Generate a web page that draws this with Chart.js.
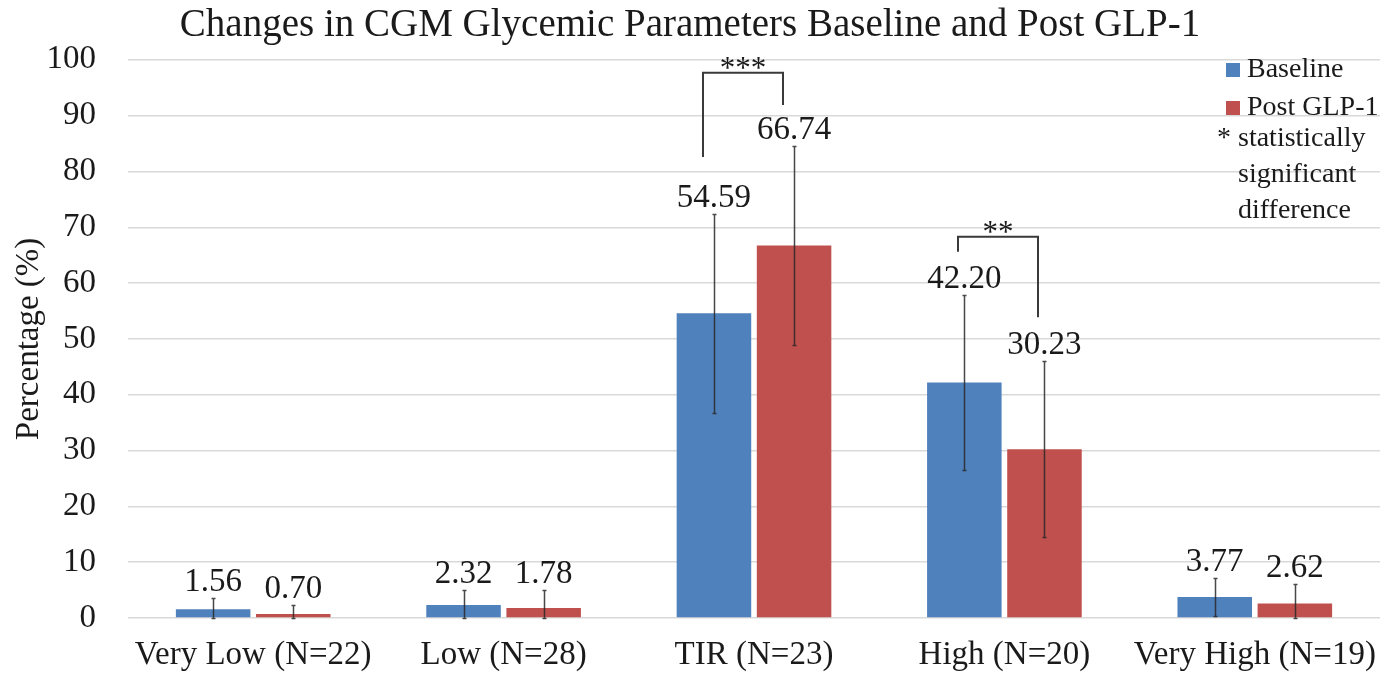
<!DOCTYPE html>
<html>
<head>
<meta charset="utf-8">
<title>Changes in CGM Glycemic Parameters</title>
<script src="https://cdn.jsdelivr.net/npm/chart.js@4.4.1/dist/chart.umd.min.js"></script>
<style>
  html, body { margin: 0; padding: 0; background: #ffffff; }
  #wrap { width: 1383px; height: 677px; }
</style>
</head>
<body>
<div id="wrap"><canvas id="chart" width="1383" height="677"></canvas></div>
<script>
// Glycemic range categories with patient counts
const categories = ['Very Low (N=22)', 'Low (N=28)', 'TIR (N=23)', 'High (N=20)', 'Very High (N=19)'];

// Mean percentage of time in each range
const baselineValues = [1.56, 2.32, 54.59, 42.20, 3.77];
const postGlp1Values = [0.70, 1.78, 66.74, 30.23, 2.62];

// Standard deviations shown as error bars
const baselineSD = [2.0, 2.7, 17.8, 15.6, 3.4];
const postGlp1SD = [1.6, 3.2, 17.8, 15.8, 3.5];

// Y axis range and step
const yMin = 0;
const yMax = 100;
const yStep = 10;

// Significance markers between the two series of a category
const significance = [
  { index: 2, stars: '***', top: 97.7, leftEnd: 82.6, rightEnd: 91.9, shift: -11 },
  { index: 3, stars: '**',  top: 68.3, leftEnd: 65.6, rightEnd: 53.9, shift: -6 }
];

const SERIF = "'Liberation Serif', 'Times New Roman', Times, serif";
const TEXT = '#1a1a1a';
const BLUE = '#4F81BD';
const RED = '#C0504D';

// Error bars (mean ± SD, clipped at the axis floor)
const errorBars = {
  id: 'errorBars',
  afterDatasetsDraw(chart) {
    const { ctx } = chart;
    const y = chart.scales.y;
    ctx.save();
    ctx.strokeStyle = 'rgba(40,40,40,0.85)';
    ctx.lineWidth = 1.5;
    chart.data.datasets.forEach((ds, di) => {
      const meta = chart.getDatasetMeta(di);
      meta.data.forEach((bar, i) => {
        const v = ds.data[i];
        const sd = ds.errors[i];
        const top = Math.round(y.getPixelForValue(v + sd)) + 0.5;
        const bot = Math.round(y.getPixelForValue(Math.max(yMin, v - sd))) + 0.5;
        const x = Math.round(bar.x) + 0.5;
        ctx.beginPath();
        ctx.moveTo(x, top);
        ctx.lineTo(x, bot);
        ctx.moveTo(x - 2, top);
        ctx.lineTo(x + 2, top);
        ctx.moveTo(x - 2, bot);
        ctx.lineTo(x + 2, bot);
        ctx.stroke();
      });
    });
    ctx.restore();
  }
};

// Value labels sitting above each error bar
const valueLabels = {
  id: 'valueLabels',
  afterDatasetsDraw(chart) {
    const { ctx } = chart;
    const y = chart.scales.y;
    ctx.save();
    ctx.font = '33px ' + SERIF;
    ctx.fillStyle = TEXT;
    ctx.textAlign = 'center';
    ctx.textBaseline = 'alphabetic';
    chart.data.datasets.forEach((ds, di) => {
      const meta = chart.getDatasetMeta(di);
      meta.data.forEach((bar, i) => {
        const v = ds.data[i];
        const top = y.getPixelForValue(v + ds.errors[i]);
        ctx.fillText(v.toFixed(2), bar.x, top - 7);
      });
    });
    ctx.restore();
  }
};

// Brackets with asterisks marking significant differences
const brackets = {
  id: 'brackets',
  afterDatasetsDraw(chart) {
    const { ctx } = chart;
    const y = chart.scales.y;
    const m0 = chart.getDatasetMeta(0);
    const m1 = chart.getDatasetMeta(1);
    ctx.save();
    ctx.strokeStyle = '#3a3a3a';
    ctx.lineWidth = 2;
    ctx.fillStyle = TEXT;
    ctx.font = '31px ' + SERIF;
    ctx.textAlign = 'center';
    ctx.textBaseline = 'middle';
    significance.forEach(s => {
      const xl = Math.round(m0.data[s.index].x) + s.shift;
      const xr = Math.round(m1.data[s.index].x) + s.shift;
      const yt = y.getPixelForValue(s.top);
      ctx.beginPath();
      ctx.moveTo(xl, y.getPixelForValue(s.leftEnd));
      ctx.lineTo(xl, yt);
      ctx.lineTo(xr, yt);
      ctx.lineTo(xr, y.getPixelForValue(s.rightEnd));
      ctx.stroke();
      ctx.fillText(s.stars, (xl + xr) / 2, yt - 3);
    });
    ctx.restore();
  }
};

// Legend and footnote in the upper right corner
const cornerLegend = {
  id: 'cornerLegend',
  afterDraw(chart) {
    const { ctx } = chart;
    const right = chart.chartArea.right;
    const x0 = right - 154;
    ctx.save();
    ctx.font = '28px ' + SERIF;
    ctx.fillStyle = TEXT;
    ctx.textAlign = 'left';
    ctx.textBaseline = 'middle';
    chart.data.datasets.forEach((ds, i) => {
      const cy = 70 + i * 38;
      ctx.fillStyle = ds.backgroundColor;
      ctx.fillRect(x0, cy - 7, 14, 14);
      ctx.fillStyle = TEXT;
      ctx.fillText(ds.label, x0 + 21, cy);
    });
    ctx.fillText('* statistically', x0 - 9, 139);
    ctx.fillText('significant', x0 + 12, 175);
    ctx.fillText('difference', x0 + 12, 211);
    ctx.restore();
  }
};

new Chart(document.getElementById('chart'), {
  type: 'bar',
  data: {
    labels: categories,
    datasets: [
      { label: 'Baseline', data: baselineValues, errors: baselineSD, backgroundColor: BLUE,
        categoryPercentage: 0.64, barPercentage: 0.93 },
      { label: 'Post GLP-1', data: postGlp1Values, errors: postGlp1SD, backgroundColor: RED,
        categoryPercentage: 0.64, barPercentage: 0.93 }
    ]
  },
  options: {
    responsive: false,
    animation: false,
    devicePixelRatio: 1,
    layout: { padding: { left: 0, right: 3, top: 0, bottom: 1 } },
    plugins: {
      legend: { display: false },
      tooltip: { enabled: false },
      title: {
        display: true,
        text: 'Changes in CGM Glycemic Parameters Baseline and Post GLP-1',
        color: TEXT,
        font: { family: SERIF, size: 39, weight: 'normal' },
        padding: { top: 2, bottom: 11 }
      }
    },
    scales: {
      x: {
        grid: { display: false, drawTicks: false },
        border: { display: false },
        ticks: { color: TEXT, font: { family: SERIF, size: 33 }, padding: 18, maxRotation: 0, autoSkip: false },
        afterFit(scale) {
          scale.height = 58;
          scale.paddingLeft = 0;
          scale.paddingRight = 0;
        }
      },
      y: {
        min: yMin,
        max: yMax,
        ticks: { stepSize: yStep, color: TEXT, font: { family: SERIF, size: 33 }, padding: 32 },
        grid: { color: '#d9d9d9', lineWidth: 1.5, drawTicks: false },
        border: { display: false },
        title: {
          display: true,
          text: 'Percentage (%)',
          color: TEXT,
          font: { family: SERIF, size: 33 },
          padding: { top: 10, bottom: 0 }
        },
        afterFit(scale) {
          scale.width = 128;
          scale.paddingTop = 0;
          scale.paddingBottom = 0;
        }
      }
    }
  },
  plugins: [errorBars, valueLabels, brackets, cornerLegend]
});
</script>
</body>
</html>
